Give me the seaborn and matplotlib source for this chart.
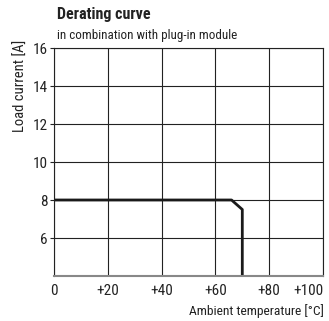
import matplotlib
matplotlib.use("Agg")
import matplotlib.pyplot as plt
import seaborn as sns
import pandas as pd
from matplotlib import font_manager

temperature = [0, 66, 70, 70]
current = [8, 8, 7.5, 4]
x_ticks = [0, 20, 40, 60, 80, 100]
x_labels = ["0", "+20", "+40", "+60", "+80", "+100"]
y_ticks = [6, 8, 10, 12, 14, 16]
y_labels = ["6", "8", "10", "12", "14", "16"]

sns.set_style("white")
names = {f.name for f in font_manager.fontManager.ttflist}
fam = "DejaVu Sans"
for cand in ["Roboto Condensed", "Liberation Sans Narrow", "Archivo Narrow", "Barlow Semi Condensed", "Asap Condensed"]:
    if cand in names:
        fam = cand
        break
plt.rcParams['font.family'] = [fam, 'DejaVu Sans']

fig = plt.figure(figsize=(3.29, 3.21), dpi=100)
ax = fig.add_axes([54/329, 1-276/321, (323-54)/329, (276-48)/321])

df = pd.DataFrame({"t": temperature, "i": current})
sns.lineplot(data=df, x="t", y="i", ax=ax, color="#1a1a1a", linewidth=2.0, sort=False, estimator=None)

ax.set_xlim(0, 100)
ax.set_ylim(4, 16)
ax.set_xticks(x_ticks)
ax.set_xticklabels(x_labels, fontsize=11, color="#222222")
ax.set_yticks(y_ticks)
ax.set_yticklabels(y_labels, fontsize=11, color="#222222")
ax.tick_params(axis="x", length=0, pad=6)
ax.tick_params(axis="y", length=3, width=0.8, color="#222222", pad=1.5, left=True)
ax.xaxis.get_ticklabels()[-1].set_horizontalalignment("right")
ax.grid(True, color="#222222", linewidth=0.8)
ax.set_axisbelow(True)
for s in ax.spines.values():
    s.set_color("#222222")
    s.set_linewidth(0.8)
ax.spines["bottom"].set_color("#888888")
ax.spines["bottom"].set_linewidth(1.5)
ax.set_xlabel("")
ax.set_ylabel("")

fig.text(57/329, 1-15/321, "Derating curve", fontsize=11.5, fontweight="bold", va="center", ha="left", color="#222222")
fig.text(57/329, 1-36/321, "in combination with plug-in module", fontsize=9.4, va="center", ha="left", color="#222222")
fig.text(21/329, 1-86/321, "Load current [A]", fontsize=10.5, rotation=90, va="center", ha="center", color="#222222")
fig.text(324/329, 1-311/321, "Ambient temperature [°C]", fontsize=9.7, va="center", ha="right", color="#222222")

fig.savefig("out.png", dpi=100)
